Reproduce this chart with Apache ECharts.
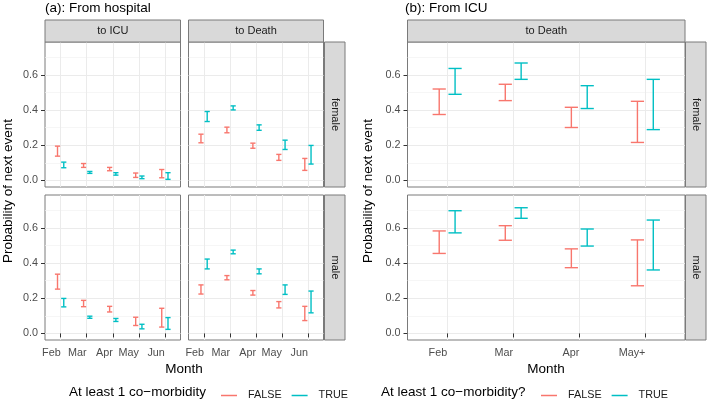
<!DOCTYPE html>
<html>
<head>
<meta charset="utf-8">
<script src="https://cdn.jsdelivr.net/npm/echarts@6/dist/echarts.min.js"></script>
<style>html,body{margin:0;padding:0;background:#fff}#c{width:708px;height:401px}</style>
</head>
<body>
<div id="c"></div>
<script>
// ---------------- data ----------------
const monthsA = ['Feb', 'Mar', 'Apr', 'May', 'Jun'];
const monthsB = ['Feb', 'Mar', 'Apr', 'May+'];
const yTicks = [0, 0.2, 0.4, 0.6];
const yMinor = [0.1, 0.3, 0.5, 0.7];
const groups = ['FALSE', 'TRUE'];
// [lower, upper] per month
const hospIcuFemaleFalse   = [[0.138, 0.195], [0.074, 0.096], [0.055, 0.074], [0.017, 0.042], [0.015, 0.062]];
const hospIcuFemaleTrue    = [[0.072, 0.104], [0.040, 0.051], [0.030, 0.044], [0.010, 0.025], [0.006, 0.044]];
const hospDeathFemaleFalse = [[0.214, 0.263], [0.271, 0.303], [0.183, 0.212], [0.114, 0.148], [0.057, 0.125]];
const hospDeathFemaleTrue  = [[0.335, 0.392], [0.401, 0.424], [0.285, 0.316], [0.176, 0.229], [0.093, 0.199]];
const hospIcuMaleFalse     = [[0.252, 0.337], [0.152, 0.188], [0.122, 0.154], [0.045, 0.092], [0.036, 0.143]];
const hospIcuMaleTrue      = [[0.151, 0.199], [0.086, 0.098], [0.068, 0.085], [0.026, 0.052], [0.023, 0.090]];
const hospDeathMaleFalse   = [[0.224, 0.276], [0.305, 0.329], [0.218, 0.244], [0.145, 0.181], [0.073, 0.154]];
const hospDeathMaleTrue    = [[0.367, 0.423], [0.453, 0.474], [0.339, 0.367], [0.222, 0.276], [0.117, 0.241]];
const icuDeathFemaleFalse  = [[0.375, 0.520], [0.454, 0.547], [0.301, 0.416], [0.216, 0.450]];
const icuDeathFemaleTrue   = [[0.490, 0.637], [0.575, 0.668], [0.409, 0.539], [0.289, 0.575]];
const icuDeathMaleFalse    = [[0.455, 0.583], [0.530, 0.613], [0.374, 0.481], [0.271, 0.532]];
const icuDeathMaleTrue     = [[0.572, 0.698], [0.655, 0.715], [0.497, 0.594], [0.361, 0.645]];

// ---------------- styles ----------------
const FONT = 'Liberation Sans, Arial, Helvetica, sans-serif';
const COLORS = {FALSE: '#F8766D', TRUE: '#00BFC4'};
const BORDER = '#7a7a7a';
const STRIP = '#D9D9D9';
const GRIDC = '#EBEBEB';
const Y_MIN = -0.0375, Y_MAX = 0.7875;
const DODGE = 0.12, HALFCAP = 0.1;

// panels: grid geometry
const panels = [
  {left: 45,    top: 42,  width: 135.5, height: 145, months: monthsA, xl: false, yl: true,  data: [hospIcuFemaleFalse, hospIcuFemaleTrue]},
  {left: 188.5, top: 42,  width: 135,   height: 145, months: monthsA, xl: false, yl: false, data: [hospDeathFemaleFalse, hospDeathFemaleTrue]},
  {left: 45,    top: 195, width: 135.5, height: 145, months: monthsA, xl: true,  yl: true,  data: [hospIcuMaleFalse, hospIcuMaleTrue]},
  {left: 188.5, top: 195, width: 135,   height: 145, months: monthsA, xl: true,  yl: false, data: [hospDeathMaleFalse, hospDeathMaleTrue]},
  {left: 407.5, top: 42,  width: 277.5, height: 145, months: monthsB, xl: false, yl: true,  data: [icuDeathFemaleFalse, icuDeathFemaleTrue]},
  {left: 407.5, top: 195, width: 277.5, height: 145, months: monthsB, xl: true,  yl: true,  data: [icuDeathMaleFalse, icuDeathMaleTrue]}
];

const grid = [], xAxis = [], yAxis = [], series = [];
panels.forEach((p, i) => {
  grid.push({left: p.left, top: p.top, width: p.width, height: p.height,
    show: true, borderColor: BORDER, borderWidth: 1, backgroundColor: '#fff'});
  const n = p.months.length;
  const xs = p.months.map((_, k) => k + 1);
  xAxis.push({
    type: 'value', gridIndex: i, min: 1 - 0.6, max: n + 0.6, position: 'bottom',
    axisLine: {show: false},
    axisTick: {show: p.xl, length: 4, lineStyle: {color: '#333'}, customValues: xs},
    axisLabel: {show: p.xl, customValues: xs, align: 'right', margin: 8,
      fontSize: 10.8, color: '#4D4D4D', fontFamily: FONT,
      formatter: v => p.months[Math.round(v) - 1] || ''},
    splitLine: {show: true, lineStyle: {color: GRIDC, width: 1}}
  });
  // minor y grid axis
  yAxis.push({
    type: 'value', gridIndex: i, min: Y_MIN, max: Y_MAX, position: 'left',
    axisLine: {show: false}, axisTick: {show: false, customValues: yMinor},
    axisLabel: {show: false, customValues: yMinor},
    splitLine: {show: true, lineStyle: {color: '#F2F2F2', width: 0.7}}
  });
  // major y axis
  yAxis.push({
    type: 'value', gridIndex: i, min: Y_MIN, max: Y_MAX, position: 'left',
    axisLine: {show: false},
    axisTick: {show: p.yl, length: 4, lineStyle: {color: '#333'}, customValues: yTicks},
    axisLabel: {show: p.yl, customValues: yTicks, margin: 7,
      fontSize: 10.8, color: '#4D4D4D', fontFamily: FONT,
      formatter: v => v.toFixed(1)},
    splitLine: {show: true, lineStyle: {color: GRIDC, width: 1}}
  });
  groups.forEach((g, gi) => {
    const dodge = gi === 0 ? -DODGE : DODGE;
    const color = COLORS[g];
    series.push({
      type: 'custom', name: g, xAxisIndex: i, yAxisIndex: 2 * i + 1,
      itemStyle: {color: color},
      encode: {x: 0, y: [1, 2]},
      data: p.data[gi].map((d, k) => [k + 1, d[0], d[1]]),
      renderItem: function (params, api) {
        const x = api.value(0) + dodge;
        const lo = api.coord([x, api.value(1)]);
        const hi = api.coord([x, api.value(2)]);
        const hc = api.coord([x + HALFCAP, 0])[0] - lo[0];
        const st = {stroke: color, lineWidth: 1.4, fill: null};
        return {type: 'group', children: [
          {type: 'line', shape: {x1: lo[0], y1: lo[1], x2: hi[0], y2: hi[1]}, style: st},
          {type: 'line', shape: {x1: lo[0] - hc, y1: lo[1], x2: lo[0] + hc, y2: lo[1]}, style: st},
          {type: 'line', shape: {x1: hi[0] - hc, y1: hi[1], x2: hi[0] + hc, y2: hi[1]}, style: st}
        ]};
      }
    });
  });
});

// ---------------- strips & texts ----------------
const graphic = [];
function strip(x, y, w, h, label, vertical) {
  graphic.push({type: 'rect', shape: {x: x, y: y, width: w, height: h},
    style: {fill: STRIP, stroke: BORDER, lineWidth: 1}, z: 10});
  graphic.push({type: 'text', x: x + w / 2, y: y + h / 2, rotation: vertical ? -Math.PI / 2 : 0,
    style: {text: label, fill: '#1A1A1A', font: '11px ' + FONT, textAlign: 'center', textVerticalAlign: 'middle'}, z: 11});
}
strip(45, 20, 135.5, 22, 'to ICU');
strip(188.5, 20, 135, 22, 'to Death');
strip(407.5, 20, 277.5, 22, 'to Death');
strip(324.5, 42, 20.5, 145, 'female', true);
strip(324.5, 195, 20.5, 145, 'male', true);
strip(685.5, 42, 20.5, 145, 'female', true);
strip(685.5, 195, 20.5, 145, 'male', true);

function text(x, y, s, opts) {
  graphic.push(Object.assign({type: 'text', x: x, y: y,
    style: Object.assign({text: s, fill: '#000', font: '13.5px ' + FONT, textVerticalAlign: 'middle'}, opts && opts.style || {})},
    opts && opts.el || {}));
}
text(45, 8, '(a): From hospital');
text(405, 8, '(b): From ICU');
text(8, 191, 'Probability of next event', {style: {textAlign: 'center'}, el: {rotation: Math.PI / 2}});
text(368, 191, 'Probability of next event', {style: {textAlign: 'center'}, el: {rotation: Math.PI / 2}});
text(184, 369, 'Month', {style: {textAlign: 'center'}});
text(546, 369, 'Month', {style: {textAlign: 'center'}});
text(69, 392, 'At least 1 co\u2212morbidity');
text(381, 392, 'At least 1 co\u2212morbidity?');

const legendBase = {
  top: 385, itemWidth: 16, itemHeight: 1.5, icon: 'rect', itemGap: 10,
  data: groups, selectedMode: false,
  textStyle: {fontSize: 10.8, color: '#1A1A1A', fontFamily: FONT, padding: [0, 0, 0, 6]}
};

const chart = echarts.init(document.getElementById('c'), null, {renderer: 'canvas'});
chart.setOption({
  animation: false,
  backgroundColor: '#fff',
  grid, xAxis, yAxis, series, graphic,
  legend: [Object.assign({left: 216}, legendBase), Object.assign({left: 536}, legendBase)]
});
</script>
</body>
</html>
